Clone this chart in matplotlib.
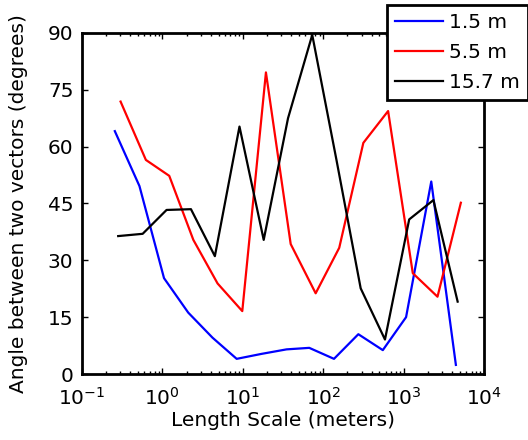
import matplotlib
matplotlib.use('Agg')
import matplotlib.pyplot as plt
from matplotlib.ticker import LogLocator, NullFormatter

plt.rcParams['font.family'] = ['DejaVu Sans']
plt.rcParams['mathtext.default'] = 'regular'

# length scale (m) and angle (deg) for each height
x_15 = [0.257, 0.52, 1.05, 2.1, 4.2, 8.4, 17, 35, 67, 136, 273, 550, 1070, 2200, 4450]
a_15 = [64.1, 49.6, 25.3, 16.2, 9.6, 4.0, 5.3, 6.5, 6.9, 4.0, 10.5, 6.3, 15.0, 50.8, 2.4]

x_55 = [0.303, 0.625, 1.22, 2.43, 4.86, 9.86, 19.4, 39.4, 80.5, 158, 315, 640, 1297, 2630, 5130]
a_55 = [71.9, 56.5, 52.3, 35.4, 23.9, 16.6, 79.6, 34.3, 21.3, 33.3, 61.0, 69.4, 26.6, 20.4, 45.2]

x_157 = [0.283, 0.57, 1.13, 2.27, 4.5, 9.1, 18.2, 36.5, 73, 146, 292, 585, 1170, 2340, 4680]
a_157 = [36.4, 37.0, 43.3, 43.5, 31.1, 65.3, 35.4, 67.5, 89.5, 56.5, 22.6, 9.1, 40.8, 45.9, 19.1]

labels = ['1.5 m', '5.5 m', '15.7 m']

fig = plt.figure(figsize=(5.28, 4.4), dpi=100)
ax = fig.add_axes([0.155, 0.15, 0.762, 0.775])

ax.plot(x_15, a_15, color='#0000ff', lw=1.6, label=labels[0])
ax.plot(x_55, a_55, color='#ff0000', lw=1.6, label=labels[1])
ax.plot(x_157, a_157, color='black', lw=1.6, label=labels[2])

ax.set_xscale('log')
ax.set_xlim(0.1, 1e4)
ax.set_ylim(0, 90)
ax.set_yticks(range(0, 91, 15))
ax.xaxis.set_major_locator(LogLocator(base=10, numticks=10))
ax.xaxis.set_minor_locator(LogLocator(base=10, subs=range(2, 10), numticks=10))
ax.xaxis.set_minor_formatter(NullFormatter())

ax.tick_params(which='both', direction='in', top=True, right=True, labelsize=14.5, width=1.0)
ax.tick_params(which='major', length=4)
ax.tick_params(which='minor', length=2.5)
ax.tick_params(axis='x', which='major', pad=9)
ax.tick_params(axis='y', which='major', pad=6)
for s in ax.spines.values():
    s.set_linewidth(2)

ax.set_xlabel('Length Scale (meters)', fontsize=14.5, labelpad=2)
ax.set_ylabel('Angle between two vectors (degrees)', fontsize=14.5, labelpad=14)

leg = fig.legend(loc='upper left', bbox_to_anchor=(386.7 / 528, 1 - 5 / 440),
                 fontsize=14.5, frameon=True, fancybox=False, edgecolor='black',
                 framealpha=1, borderpad=0.4, labelspacing=0.55,
                 handlelength=2.4, handletextpad=0.3, borderaxespad=0)
leg.get_frame().set_linewidth(2)

fig.savefig('out.png', dpi=100)
